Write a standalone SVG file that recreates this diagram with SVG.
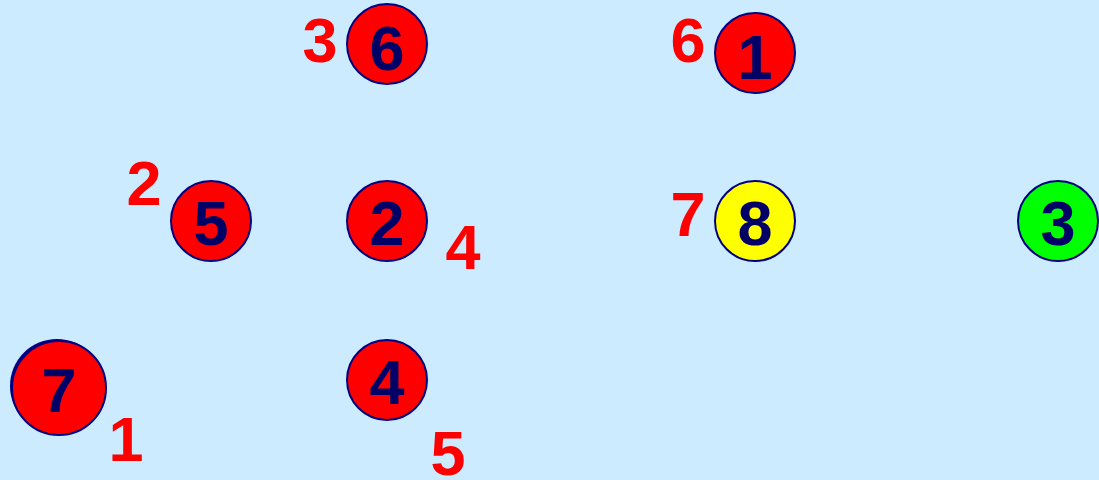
<svg xmlns="http://www.w3.org/2000/svg" width="1099" height="480" viewBox="0 0 1099 480">
<style>
.n{stroke:#000080;stroke-width:2}
.r{fill:#FF0000}
.y{fill:#FFFF00}
.g{fill:#00FF00}
.d{font-family:"Liberation Sans",Arial,sans-serif;font-weight:bold;font-size:63px;text-anchor:middle;fill:#000066}
.l{font-family:"Liberation Sans",Arial,sans-serif;font-weight:bold;font-size:63px;text-anchor:middle;fill:#FF0000}
</style>
<rect width="1099" height="480" fill="#CCEBFF"/>
<g id="connectors"></g>
<g id="node6"><circle class="n r" cx="387" cy="44" r="40"/><text class="d" x="387" y="70">6</text></g>
<g id="node1"><circle class="n r" cx="755" cy="53" r="40"/><text class="d" x="755" y="79">1</text></g>
<g id="node5"><circle class="n r" cx="211" cy="221" r="40"/><text class="d" x="211" y="245">5</text></g>
<g id="node2"><circle class="n r" cx="387" cy="221" r="40"/><text class="d" x="387" y="245">2</text></g>
<g id="node8"><circle class="n y" cx="755" cy="221" r="40"/><text class="d" x="755" y="245">8</text></g>
<g id="node3"><circle class="n g" cx="1058" cy="221" r="40"/><text class="d" x="1058" y="245">3</text></g>
<g id="node4"><circle class="n r" cx="387" cy="380" r="40"/><text class="d" x="387" y="404">4</text></g>
<g id="node7"><circle cx="57" cy="386" r="47" fill="#000080"/><circle class="n r" cx="59" cy="388" r="47"/><text class="d" x="59" y="412">7</text></g>
<g id="labels">
<text class="l" x="320" y="62">3</text>
<text class="l" x="688" y="62">6</text>
<text class="l" x="144" y="205">2</text>
<text class="l" x="463" y="269">4</text>
<text class="l" x="688" y="236">7</text>
<text class="l" x="126" y="461">1</text>
<text class="l" x="448" y="475">5</text>
</g>
</svg>
